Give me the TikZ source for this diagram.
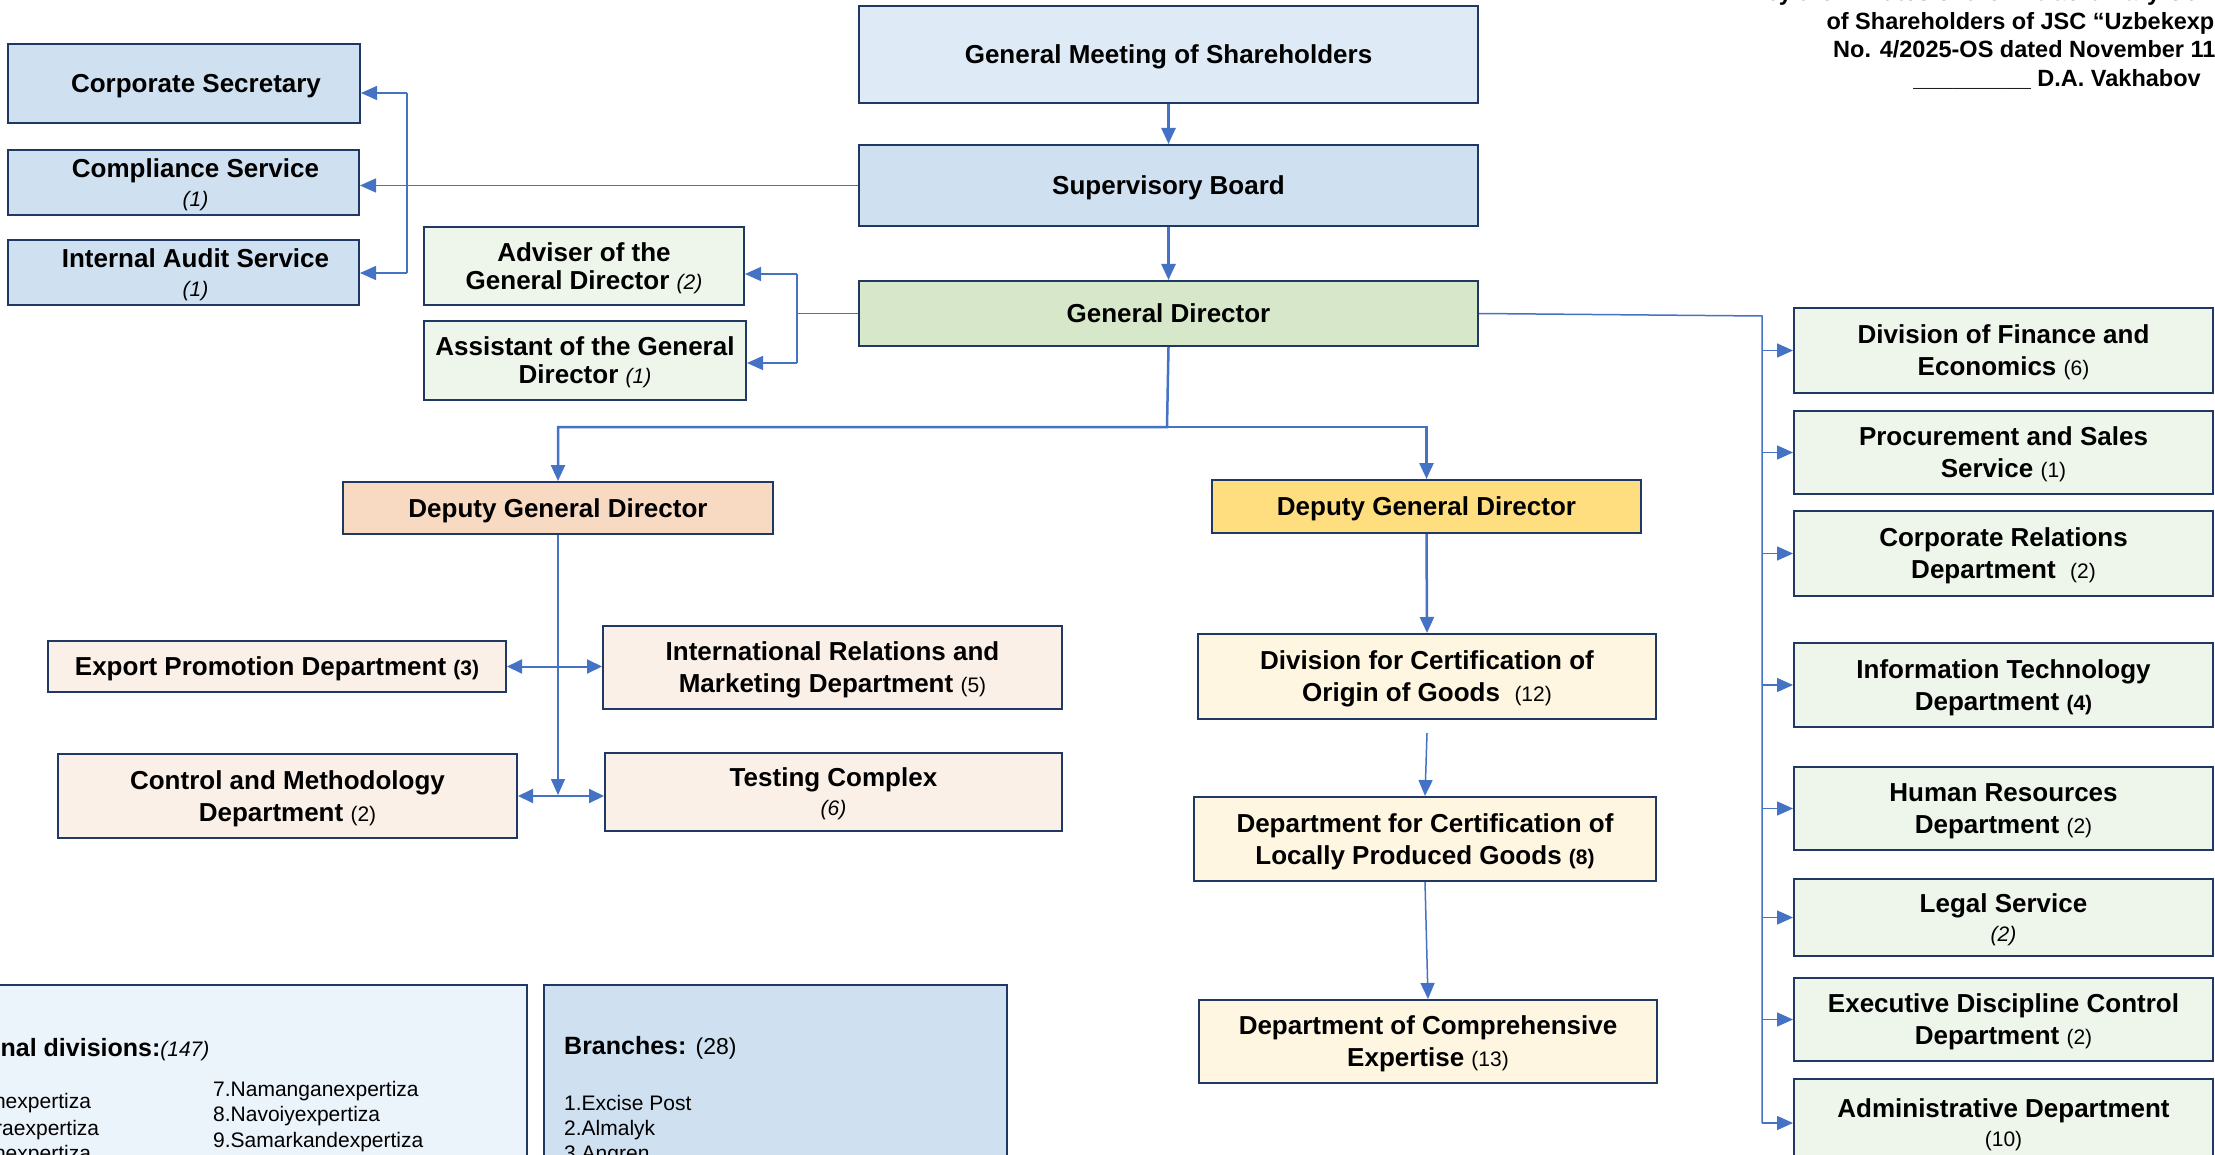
\documentclass[tikz,border=0pt]{standalone}
\usepackage{fontspec}
\setmainfont{Liberation Sans}
\usetikzlibrary{arrows.meta}
\definecolor{bordercol}{HTML}{203864}
\definecolor{conncol}{HTML}{4472C4}
\definecolor{gmsfill}{HTML}{DEEAF6}
\definecolor{sbfill}{HTML}{CFE0F1}
\definecolor{gdfill}{HTML}{D6E8C9}
\definecolor{lgreen}{HTML}{EEF5EA}
\definecolor{peach}{HTML}{F8D9C2}
\definecolor{gold}{HTML}{FFDE80}
\definecolor{lpeach}{HTML}{FBF0E7}
\definecolor{cream}{HTML}{FFF6E2}
\definecolor{regfill}{HTML}{EBF3FB}
\newcommand{\orgcnt}[1]{{\fontsize{21}{32}\selectfont\mdseries #1}}
\newcommand{\orgicnt}[1]{{\fontsize{21}{32}\selectfont\mdseries\itshape #1}}
\newcommand{\orgbcnt}[1]{{\fontsize{21}{32}\selectfont\bfseries #1}}
\begin{document}
\begin{tikzpicture}[x=1pt,y=-1pt,
  box/.style={draw=bordercol, line width=2pt, inner sep=0pt, align=center,
    text depth=-3pt, font=\bfseries\fontsize{26}{32}\selectfont},
  mbox/.style={box, text depth=-5pt},
  conn/.style={draw=conncol, line width=1.5pt},
  arr/.style={conn, -{Triangle[length=16pt,width=14pt]}},
  thickarr/.style={arr, line width=2.5pt},
  darr/.style={conn, line width=2pt, {Triangle[length=15pt,width=14pt]}-{Triangle[length=15pt,width=14pt]}},
  hdr/.style={anchor=base, inner sep=0pt, font=\bfseries\fontsize{23.5}{28}\selectfont},
  itm/.style={anchor=base west, inner sep=0pt, font=\fontsize{21}{26}\selectfont}]
\useasboundingbox (0,0) rectangle (2215,1155);

% header
\node[hdr] (h1) at (2057,1) {by the minutes of the Extraordinary General Meeting};
\node[hdr] (h2) at (2057,30) {of Shareholders of JSC “Uzbekexpertiza”};
\node[hdr] (h3) at (2057,58) {No. 4/2025-OS dated November 11, 2025};
\node[hdr] (h4) at (2057,87) {\_\_\_\_\_\_\_\_\_ D.A. Vakhabov};

% top chain
\node[box,fill=gmsfill,minimum width=619pt,minimum height=97pt] (gms) at (1168.5,54.5) {General Meeting of Shareholders};
\node[box,fill=sbfill,minimum width=619pt,minimum height=81pt] (sb) at (1168.5,185.5) {Supervisory Board};
\node[box,fill=gdfill,minimum width=619pt,minimum height=65pt] (gd) at (1168.5,313.5) {General Director};

% left top
\node[box,fill=sbfill,minimum width=352pt,minimum height=79pt] (cs) at (184,83.5) {\hspace{24pt}Corporate Secretary};
\node[mbox,fill=sbfill,minimum width=351pt,minimum height=65pt] (comp) at (183.5,182.5) {\hspace{24pt}Compliance Service\\[-3pt]\hspace{24pt}\orgicnt{(1)}};
\node[mbox,fill=sbfill,minimum width=351pt,minimum height=65pt] (ia) at (183.5,272.5) {\hspace{24pt}Internal Audit Service\\[-3pt]\hspace{24pt}\orgicnt{(1)}};

\node[mbox,fill=lgreen,minimum width=320pt,minimum height=78pt] (adv) at (584,266) {Adviser of the\\[-4pt]General Director \orgicnt{(2)}};
\node[mbox,fill=lgreen,minimum width=322pt,minimum height=79pt] (asst) at (585,360.5) {Assistant of the General\\[-4pt]Director \orgicnt{(1)}};

% deputies
\node[box,fill=peach,minimum width=430pt,minimum height=52pt] (ldgd) at (558,508) {Deputy General Director};
\node[box,fill=gold,minimum width=429pt,minimum height=53pt] (rdgd) at (1426.5,506.5) {Deputy General Director};

% left deputy subordinates
\node[box,fill=lpeach,minimum width=458pt,minimum height=51pt] (exp) at (277,666.5) {Export Promotion Department \orgbcnt{(3)}};
\node[mbox,fill=lpeach,minimum width=459pt,minimum height=83pt] (irm) at (832.5,667.5) {International Relations and\\Marketing Department \orgcnt{(5)}};
\node[mbox,fill=lpeach,minimum width=459pt,minimum height=84pt] (ctrl) at (287.5,796) {Control and Methodology\\Department \orgcnt{(2)}};
\node[mbox,fill=lpeach,minimum width=457pt,minimum height=78pt] (test) at (833.5,792) {Testing Complex\\[-3pt]\orgicnt{(6)}};

% right deputy subordinates
\node[mbox,fill=cream,minimum width=458pt,minimum height=85pt] (dc1) at (1427,676.5) {Division for Certification of\\Origin of Goods\ \ \orgcnt{(12)}};
\node[mbox,fill=cream,minimum width=462pt,minimum height=84pt] (dc2) at (1425,839) {Department for Certification of\\Locally Produced Goods \orgbcnt{(8)}};
\node[mbox,fill=cream,minimum width=458pt,minimum height=83pt] (dc3) at (1428,1041.5) {Department of Comprehensive\\Expertise \orgcnt{(13)}};

% right column
\node[mbox,fill=lgreen,minimum width=419pt,minimum height=85pt] (fin) at (2003.5,350.5) {Division of Finance and\\Economics \orgcnt{(6)}};
\node[mbox,fill=lgreen,minimum width=419pt,minimum height=83pt] (proc) at (2003.5,452.5) {Procurement and Sales\\Service \orgcnt{(1)}};
\node[mbox,fill=lgreen,minimum width=419pt,minimum height=85pt] (crel) at (2003.5,553.5) {Corporate Relations\\Department\ \ \orgcnt{(2)}};
\node[mbox,fill=lgreen,minimum width=419pt,minimum height=84pt] (it) at (2003.5,685) {Information Technology\\Department \orgbcnt{(4)}};
\node[mbox,fill=lgreen,minimum width=419pt,minimum height=83pt] (hr) at (2003.5,808.5) {Human Resources\\Department \orgcnt{(2)}};
\node[mbox,fill=lgreen,minimum width=419pt,minimum height=77pt] (legal) at (2003.5,917.5) {Legal Service\\[-3pt]\orgicnt{(2)}};
\node[mbox,fill=lgreen,minimum width=419pt,minimum height=83pt] (exec) at (2003.5,1019.5) {Executive Discipline Control\\Department \orgcnt{(2)}};
\node[mbox,fill=lgreen,minimum width=419pt,minimum height=88pt] (adm) at (2003.5,1123) {Administrative Department\\[-3pt]\orgcnt{(10)}};

% bottom boxes
\draw[draw=bordercol,line width=2pt,fill=regfill] (-100,985) rectangle (527,1200);
\draw[draw=bordercol,line width=2pt,fill=sbfill] (544,985) rectangle (1007,1200);
\node[anchor=base west,inner sep=0pt,font=\bfseries\fontsize{25}{30}\selectfont] (regt) at (-69,1056) {Regional divisions:\orgicnt{(147)}};
\node[itm] (r1) at (-82,1108) {1.Andijanexpertiza};
\node[itm] (r2) at (-82,1135) {2.Bukharaexpertiza};
\node[itm] (r3) at (-89,1160) {3.Gulistanexpertiza};
\node[itm] (r7) at (213,1096) {7.Namanganexpertiza};
\node[itm] (r8) at (213,1121) {8.Navoiyexpertiza};
\node[itm] (r9) at (213,1147) {9.Samarkandexpertiza};
\node[anchor=base west,inner sep=0pt,font=\bfseries\fontsize{25}{30}\selectfont] (brt) at (564,1054) {Branches: {\fontsize{23}{30}\selectfont\mdseries (28)}};
\node[itm] (b1) at (564,1110) {1.Excise Post};
\node[itm] (b2) at (564,1135) {2.Almalyk};
\node[itm] (b3) at (564,1160) {3.Angren};

% connectors: main chain
\draw[thickarr] (gms) -- (sb);
\draw[thickarr] (sb) -- (gd);
\coordinate (gdj) at (1167,427);
\draw[thickarr] (gd.south) -- (gdj) -| (ldgd.north);
\draw[thickarr] (gdj) -| (rdgd.north);

% supervisory board to left services
\coordinate (lbt) at (407,93);
\coordinate (lbb) at (407,273);
\draw[arr] (sb.west) -- (sb.west -| comp.east);
\draw[conn] (lbt) -- (lbb);
\draw[arr] (lbt) -- (lbt -| cs.east);
\draw[arr] (lbb) -- (lbb -| ia.east);

% general director to adviser / assistant
\coordinate (abt) at (797,274);
\coordinate (abb) at (797,363);
\draw[conn] (gd.west) -- (gd.west -| abt);
\draw[conn] (abt) -- (abb);
\draw[arr] (abt) -- (abt -| adv.east);
\draw[arr] (abb) -- (abb -| asst.east);

% left deputy
\coordinate (lvb) at (559,795);
\draw[arr] (ldgd.south) -- (ldgd.south |- lvb);
\draw[darr] (exp.east) -- (exp.east -| irm.west);
\draw[darr] (ctrl.east) -- (ctrl.east -| test.west);

% right deputy
\draw[thickarr] (rdgd.south) -- (dc1.north);
\draw[arr] ([yshift=-13pt]dc1.south) -- (dc2.north);
\draw[arr] (dc2.south) -- (dc3.north);

% right column bus
\coordinate (rbt) at (1762,316);
\coordinate (rbb) at (1762,1123);
\draw[conn] (gd.east) -- (rbt) -- (rbb);
\foreach \n in {fin,proc,crel,it,hr,legal,exec,adm}
  \draw[arr] (rbt |- \n.west) -- (\n.west);
\end{tikzpicture}
\end{document}
